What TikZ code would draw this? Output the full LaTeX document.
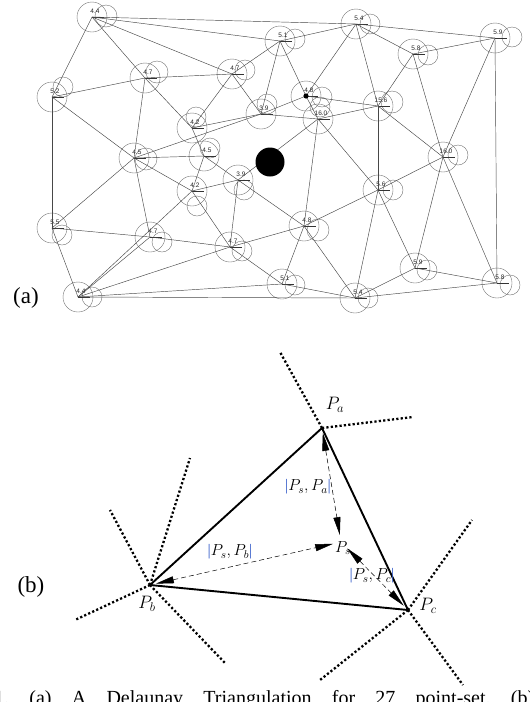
\RequirePackage{fix-cm}
\documentclass[tikz,border=0pt]{standalone}
\usepackage{fontspec}
\setmainfont{Liberation Serif}
\setsansfont{Liberation Sans}
\usetikzlibrary{calc,arrows.meta}

\tikzset{
 edge/.style={draw=black!72, line width=0.45pt},
 bigc/.style={draw=black!55, line width=0.4pt},
 tickl/.style={draw=black!80, line width=0.4pt},
 lbl/.style={font=\sffamily\fontsize{6.5}{6.5}\selectfont, inner sep=0pt, text=black!85},
 tri/.style={draw=black, line width=1.9pt, line join=round},
 dotl/.style={draw=black, line width=2.3pt, dash pattern=on 2.2pt off 2.2pt},
 darr/.style={draw=black, line width=0.5pt, dash pattern=on 5pt off 3pt,
   {Triangle[length=18pt,width=7pt]}-{Triangle[length=18pt,width=7pt]}},
 vlab/.style={font=\fontsize{18}{18}\selectfont, inner sep=0pt},
 dlab/.style={font=\fontsize{16}{16}\selectfont, inner sep=0pt},
 plab/.style={font=\fontsize{23}{23}\selectfont, inner sep=0pt},
 caplab/.style={font=\fontsize{20}{20}\selectfont, inner sep=0pt, anchor=base west},
}
\definecolor{barblue}{RGB}{50,90,200}
\newcommand\barl{\textcolor{barblue}{|}}

\newcommand\dnode[7]{%
 \coordinate (#1) at (#2,#3);
 \draw[bigc] (#1) circle[radius=15pt];
 \draw[bigc] ($(#1)+(#5,#6)$) circle[radius=#7pt];
 \draw[tickl] (#1) -- ++(12,0);
 \node[lbl] (#1l) at ($(#1)+(3,-6)$) {#4};
}

\begin{document}
\begin{tikzpicture}[x=1pt,y=-1pt]
\useasboundingbox (0,0) rectangle (530,702);

% ---------- (a) ----------
\dnode{n1}{92}{17}{4.4}{14}{-1}{11}
\dnode{n2}{280}{41}{5.1}{15}{-2}{10}
\dnode{n3}{356}{24}{5.4}{14}{0}{10}
\dnode{n4}{413}{54}{5.8}{15}{1}{10}
\dnode{n5}{495}{38}{5.9}{17}{-1}{10}
\dnode{n6}{52}{97}{5.2}{11}{-10}{10}
\dnode{n7}{145}{78}{4.7}{12}{-6}{11}
\dnode{n8}{232}{74}{4.7}{13}{-4}{10}
\dnode{n9}{192}{128}{4.2}{4}{-11}{10}
\dnode{n10}{261}{114}{3.9}{6}{-10}{10}
\dnode{n11}{306}{96}{4.8}{16}{1}{10}
\dnode{n12}{318}{119}{16.0}{2}{-12}{10}
\dnode{n13}{378}{106}{15.6}{14}{-4}{11}
\dnode{n14}{443}{157}{16.0}{15}{-2}{10}
\dnode{n15}{134}{158}{4.5}{12}{1}{11}
\dnode{n16}{204}{156}{4.5}{6}{-8}{10}
\dnode{n17}{192}{191}{4.2}{5}{15}{10}
\dnode{n18}{238}{180}{3.9}{6}{10}{10}
\dnode{n19}{378}{190}{5.6}{15}{0}{10}
\dnode{n20}{304}{226}{4.8}{14}{4}{11}
\dnode{n21}{52}{228}{5.5}{10}{7}{10}
\dnode{n22}{150}{237}{4.7}{12}{5}{10}
\dnode{n23}{230}{247}{4.7}{12}{4}{10}
\dnode{n24}{282}{284}{5.1}{13}{1}{10}
\dnode{n25}{415}{268}{5.9}{12}{2}{10}
\dnode{n26}{497}{283}{5.8}{13}{2}{10}
\dnode{n27}{355}{298}{5.4}{13}{0}{10}
\dnode{n28}{78}{297}{4.4}{14}{0}{10}

\foreach \a/\b in {n1/n6,n1/n7,n1/n3,n1/n2,n1/n8,
 n6/n7,n6/n15,n6/n21,
 n7/n8,n7/n15,n7/n9,
 n8/n2,n8/n9,n8/n10,
 n2/n3,n2/n10,n2/n11,
 n3/n11,n3/n13,n3/n4,n3/n5,
 n4/n5,n4/n13,n4/n14,
 n5/n14,n5/n26,
 n13/n11,n13/n12,n13/n14,n13/n19,
 n11/n10,n11/n12,
 n12/n10,n12/n18,n12/n20,n12/n19,
 n10/n9,n10/n15,
 n15/n16,n15/n17,n15/n21,n15/n22,
 n16/n17,n16/n9,n16/n18,
 n17/n18,n17/n23,n17/n28,
 n18/n23,n18/n20,
 n20/n23,n20/n19,n20/n24,n20/n27,
 n19/n14,n19/n27,n19/n25,
 n14/n25,n14/n26,
 n25/n27,n25/n26,n27/n26,
 n24/n27,n24/n28,n24/n23,
 n21/n22,n21/n28,
 n22/n23,n22/n28,
 n28/n23,n28/n27}
 \draw[edge] (\a) -- (\b);

\fill (n11) circle[radius=2.6pt];
\node[circle, fill=black, minimum size=29pt, inner sep=0pt] (qs) at (270,162) {};

\node[plab] (la) at (26,298) {(a)};

% ---------- (b) ----------
\coordinate (Pa) at (322,428);
\coordinate (Pb) at (150,585);
\coordinate (Pc) at (408,610);
\coordinate (Ps) at (341,542);

\coordinate (ra1) at (280,352);
\coordinate (ra2) at (413,417);
\coordinate (rb1) at (190,458);
\coordinate (rb2) at (110,510);
\coordinate (rb3) at (75,620);
\coordinate (rb4) at (225,663);
\coordinate (rc1) at (472,520);
\coordinate (rc2) at (320,680);
\coordinate (rc3) at (463,685);

\foreach \v/\r in {Pa/ra1,Pa/ra2,Pb/rb1,Pb/rb2,Pb/rb3,Pb/rb4,Pc/rc1,Pc/rc2,Pc/rc3}
 \draw[dotl] (\v) -- (\r);

\draw[tri] (Pa) -- (Pb) -- (Pc) -- cycle;

\draw[darr, shorten <=5pt, shorten >=7pt] (Pa) -- (Ps);
\draw[darr, shorten <=6pt, shorten >=8pt] (Pb) -- (Ps);
\draw[darr, shorten <=9pt, shorten >=6pt] (Ps) -- (Pc);

\node[vlab] (lpa) at (335,405) {$P_a$};
\node[vlab] (lpb) at (147,604) {$P_b$};
\node[vlab] (lpc) at (428,606) {$P_c$};
\node[dlab] (lps) at (343,548) {$P_s$};
\node[dlab] (lsa) at (308,487) {\barl$P_s,P_a$\barl};
\node[dlab] (lsb) at (230,552) {\barl$P_s,P_b$\barl};
\node[dlab] (lsc) at (372,576) {\barl$P_s,P_c$\barl};

\node[plab] (lb) at (31,587) {(b)};

% caption (cut by the lower edge, as in the reference)
\node[caplab] (cap) at (-6,704) {\makebox[540pt][s]{1.\ (a)\ A\ Delaunay\ Triangulation\ for\ 27\ point-set.\ (b)}};
\end{tikzpicture}
\end{document}
